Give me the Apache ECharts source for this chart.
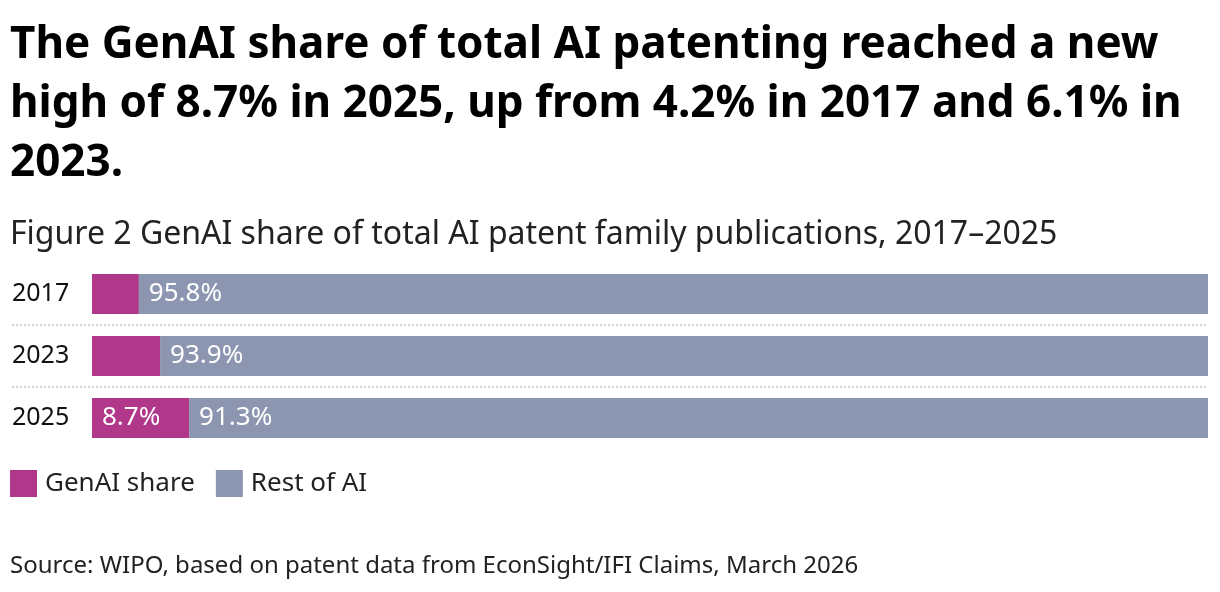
<!DOCTYPE html>
<html lang="en" style="height: 100%">
<head>
  <meta charset="utf-8">
</head>
<body style="height: 100%; margin: 0; background: #fff">
  <div id="container" style="width: 1220px; height: 592px"></div>
  <script type="text/javascript" src="https://fastly.jsdelivr.net/npm/echarts@6/dist/echarts.min.js"></script>
  <script type="text/javascript">
    // data
    var years = ['2017', '2023', '2025'];
    var genaiShare = [4.2, 6.1, 8.7];
    var restOfAI = [95.8, 93.9, 91.3];

    var titleText = 'The GenAI share of total AI patenting reached a new\nhigh of 8.7% in 2025, up from 4.2% in 2017 and 6.1% in\n2023.';
    var subtitleText = 'Figure 2 GenAI share of total AI patent family publications, 2017\u20132025';
    var sourceText = 'Source: WIPO, based on patent data from EconSight/IFI Claims, March 2026';

    var font = "'Noto Sans', 'Open Sans', sans-serif";
    var dom = document.getElementById('container');
    var myChart = echarts.init(dom, null, { renderer: 'canvas' });

    var option = {
      backgroundColor: '#fff',
      textStyle: { fontFamily: font },
      title: [
        {
          text: titleText, left: 10, top: 16, padding: 0,
          textStyle: { fontFamily: font, fontSize: 44, fontWeight: 'bold', color: '#000', lineHeight: 59 }
        },
        {
          text: subtitleText, left: 10, top: 215, padding: 0,
          textStyle: { fontFamily: font, fontSize: 32, fontWeight: 'normal', color: '#222', lineHeight: 40 }
        },
        {
          text: sourceText, left: 10, top: 551, padding: 0,
          textStyle: { fontFamily: font, fontSize: 24, fontWeight: 'normal', color: '#222', lineHeight: 30 }
        }
      ],
      legend: {
        left: 10, top: 470, padding: 0,
        icon: 'rect', itemWidth: 27, itemHeight: 27, itemGap: 21,
        textStyle: { fontFamily: font, fontSize: 26, color: '#222', padding: [0, 0, 0, 3] },
        data: ['GenAI share', 'Rest of AI']
      },
      grid: [
        // separators spanning the full width
        { left: 12, right: 12, top: 263, height: 186, containLabel: false },
        // bars
        { left: 92, right: 12, top: 263, height: 186, containLabel: false }
      ],
      xAxis: [
        { gridIndex: 0, type: 'value', min: 0, max: 100, show: false },
        { gridIndex: 1, type: 'value', min: 0, max: 100, show: false }
      ],
      yAxis: [
        {
          gridIndex: 0, type: 'category', data: years, inverse: true,
          axisLine: { show: false }, axisTick: { show: false }, axisLabel: { show: false },
          splitLine: {
            show: true, showMinLine: false, showMaxLine: false,
            lineStyle: { color: '#d2d2d2', width: 2, type: [2, 2] }
          }
        },
        {
          gridIndex: 1, type: 'category', data: years, inverse: true,
          axisLine: { show: false }, axisTick: { show: false }, splitLine: { show: false },
          axisLabel: {
            align: 'left', margin: 80, fontFamily: font, fontSize: 25, color: '#111'
          }
        }
      ],
      series: [
        {
          name: 'GenAI share', type: 'bar', stack: 'total', xAxisIndex: 1, yAxisIndex: 1,
          barWidth: 40, data: genaiShare,
          itemStyle: { color: '#b0378a' },
          label: {
            show: true, position: 'insideLeft', distance: 10, color: '#fff',
            fontFamily: font, fontSize: 26,
            formatter: function (p) { return p.value >= 8 ? p.value + '%' : ''; }
          }
        },
        {
          name: 'Rest of AI', type: 'bar', stack: 'total', xAxisIndex: 1, yAxisIndex: 1,
          barWidth: 40, data: restOfAI,
          itemStyle: { color: '#8c96b0' },
          label: {
            show: true, position: 'insideLeft', distance: 10, color: '#fff',
            fontFamily: font, fontSize: 26,
            formatter: '{c}%'
          }
        }
      ]
    };

    myChart.setOption(option);
    window.addEventListener('resize', myChart.resize);
  </script>
</body>
</html>
